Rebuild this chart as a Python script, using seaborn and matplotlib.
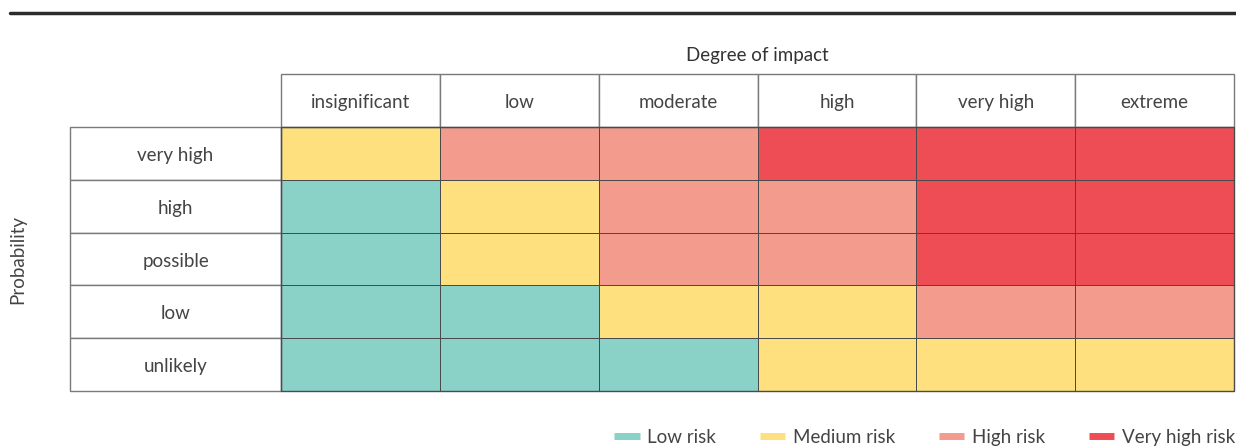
"""Risk matrix: probability vs degree of impact."""
import numpy as np
import pandas as pd
import matplotlib
matplotlib.use("Agg")
import matplotlib.pyplot as plt
from matplotlib.colors import ListedColormap
from matplotlib.lines import Line2D
from matplotlib.patches import Rectangle
import seaborn as sns

impact = ["insignificant", "low", "moderate", "high", "very high", "extreme"]
probability = ["very high", "high", "possible", "low", "unlikely"]
risk_names = ["Low risk", "Medium risk", "High risk", "Very high risk"]
risk_colors = ["#8ad1c8", "#fee07e", "#f39b8c", "#ef4d55"]

# risk level per cell (0 = low ... 3 = very high), rows = probability
row_very_high = [1, 2, 2, 3, 3, 3]
row_high = [0, 1, 2, 2, 3, 3]
row_possible = [0, 1, 2, 2, 3, 3]
row_low = [0, 0, 1, 1, 2, 2]
row_unlikely = [0, 0, 0, 1, 1, 1]

TEXT = "#444444"
BOX = "#7a7a7a"
FS = 13.5

sns.set_theme(style="white")
plt.rcParams["font.family"] = ["Lato", "DejaVu Sans"]

df = pd.DataFrame([row_very_high, row_high, row_possible, row_low, row_unlikely],
                  index=probability, columns=impact)

fig = plt.figure(figsize=(12.36, 4.46), dpi=100)
W, H = 1236, 446
ax = fig.add_axes([281 / W, 1 - 391 / H, (1234 - 281) / W, (391 - 127) / H])

sns.heatmap(df, ax=ax, cmap=ListedColormap(risk_colors), vmin=-0.5, vmax=3.5,
            cbar=False, linewidths=0.7, linecolor="#4a4a4a", xticklabels=False,
            yticklabels=False)
ax.set_xlabel("")
ax.set_ylabel("")

ncol, nrow = len(impact), len(probability)
label_w = 211 / 159  # width of the row label column in cell units
dy = 0.04  # nudge labels down a touch

# outer border of the coloured grid
ax.add_patch(Rectangle((0, 0), ncol, nrow, fill=False, edgecolor="#4a4a4a",
                       linewidth=1.0, clip_on=False, zorder=5))

# column header boxes
for i, name in enumerate(impact):
    ax.add_patch(Rectangle((i, -1), 1, 1, facecolor="white", edgecolor=BOX,
                           linewidth=1.0, clip_on=False))
    ax.text(i + 0.5, -0.5 + dy, name, ha="center", va="center", fontsize=FS,
            color=TEXT, clip_on=False)

# row label boxes
for j, name in enumerate(probability):
    ax.add_patch(Rectangle((-label_w, j), label_w, 1, facecolor="white",
                           edgecolor=BOX, linewidth=1.0, clip_on=False))
    ax.text(-label_w / 2, j + 0.5 + dy, name, ha="center", va="center",
            fontsize=FS, color=TEXT, clip_on=False)

ax.text(ncol / 2, -1.36, "Degree of impact", ha="center", va="center",
        fontsize=FS, color="#333333", clip_on=False)
ax.text((17 - 281) / 159, nrow / 2, "Probability", ha="center", va="center",
        rotation=90, fontsize=FS, color=TEXT, clip_on=False)

# heavy rule across the top
fig.add_artist(Line2D([10 / W, 1], [1 - 13 / H, 1 - 13 / H], color="#2b2b2b",
                      linewidth=2.5))

handles = [Line2D([], [], color=c, linewidth=5, solid_capstyle="butt")
           for c in risk_colors]
fig.legend(handles, risk_names, loc="lower right", bbox_to_anchor=(1.013, -0.037),
           ncol=4, frameon=False, fontsize=FS, handlelength=1.35,
           handletextpad=0.4, columnspacing=2.35, labelcolor=TEXT)

fig.savefig("out.png", dpi=100)
